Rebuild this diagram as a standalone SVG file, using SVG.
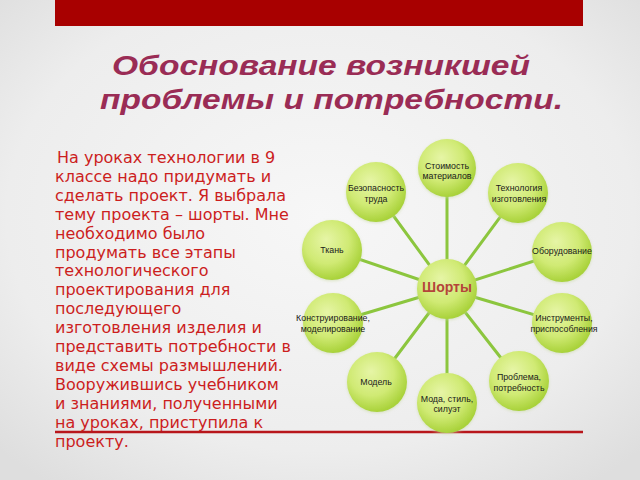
<svg xmlns="http://www.w3.org/2000/svg" width="640" height="480" viewBox="0 0 640 480">
<defs>
<radialGradient id="bg" cx="50%" cy="45%" r="70%">
<stop offset="0" stop-color="#f7f7f7"/>
<stop offset="0.7" stop-color="#ededed"/>
<stop offset="1" stop-color="#dedede"/>
</radialGradient>
<radialGradient id="ball" cx="42%" cy="38%" r="62%" fx="40%" fy="32%">
<stop offset="0" stop-color="#e6f5a6"/>
<stop offset="0.6" stop-color="#d0ea74"/>
<stop offset="1" stop-color="#a9d23a"/>
</radialGradient>
<filter id="glow" x="-20%" y="-20%" width="140%" height="140%">
<feGaussianBlur in="SourceAlpha" stdDeviation="1.5"/>
<feOffset dx="0" dy="1" result="b"/>
<feFlood flood-color="#c8d8a0" flood-opacity="0.6"/>
<feComposite in2="b" operator="in"/>
<feMerge><feMergeNode/><feMergeNode in="SourceGraphic"/></feMerge>
</filter>
</defs>
<style>
.title{font-family:"Liberation Sans",Arial,sans-serif;font-size:28px;font-weight:bold;font-style:italic;fill:#9a2c55}
.body{font-family:"DejaVu Sans",Verdana,sans-serif;font-size:16px;fill:#cc1e1e}
.node circle{fill:url(#ball);filter:url(#glow)}
.lbl{font-family:"Liberation Sans",Arial,sans-serif;font-size:8.8px;fill:#1a1a1a;text-anchor:middle}
.hub{font-family:"Liberation Sans",Arial,sans-serif;font-size:14px;font-weight:bold;fill:#b4453a;text-anchor:middle}
.conn line{stroke:#8cc63e;stroke-width:3;stroke-linecap:round}
</style>
<rect x="0" y="0" width="640" height="480" fill="url(#bg)"/>
<rect x="55" y="0" width="528" height="26" fill="#a80000"/>
<text class="title" x="112" y="75" textLength="418" lengthAdjust="spacingAndGlyphs">Обоснование возникшей</text>
<text class="title" x="100" y="109" textLength="463" lengthAdjust="spacingAndGlyphs">проблемы и потребности.</text>
<g id="body-text" class="body">
<text x="57" y="163">На уроках технологии в 9</text>
<text x="55" y="181.9">классе надо придумать и</text>
<text x="55" y="200.8">сделать проект. Я выбрала</text>
<text x="55" y="219.7">тему проекта – шорты. Мне</text>
<text x="55" y="238.6">необходимо было</text>
<text x="55" y="257.5">продумать все этапы</text>
<text x="55" y="276.4">технологического</text>
<text x="55" y="295.3">проектирования для</text>
<text x="55" y="314.2">последующего</text>
<text x="55" y="333.1">изготовления изделия и</text>
<text x="55" y="352">представить потребности в</text>
<text x="55" y="370.9">виде схемы размышлений.</text>
<text x="55" y="389.8">Вооружившись учебником</text>
<text x="55" y="408.7">и знаниями, полученными</text>
<text x="55" y="427.6">на уроках, приступила к</text>
<text x="55" y="446.5">проекту.</text>
</g>
<line x1="55" y1="432" x2="583" y2="432" stroke="#b8161b" stroke-width="2.5"/>
<g id="connectors" class="conn">
<line x1="447" y1="289" x2="447" y2="168"/>
<line x1="447" y1="289" x2="376" y2="192"/>
<line x1="447" y1="289" x2="518" y2="193"/>
<line x1="447" y1="289" x2="332" y2="250"/>
<line x1="447" y1="289" x2="562" y2="252"/>
<line x1="447" y1="289" x2="333" y2="323"/>
<line x1="447" y1="289" x2="562" y2="323"/>
<line x1="447" y1="289" x2="377" y2="382"/>
<line x1="447" y1="289" x2="519" y2="381"/>
<line x1="447" y1="289" x2="447" y2="403"/>
</g>
<g id="node-stoimost" class="node"><circle cx="447" cy="168" r="29"/><text class="lbl" x="447" y="169">Стоимость</text><text class="lbl" x="447" y="179">материалов</text></g>
<g id="node-bezopasnost" class="node"><circle cx="376" cy="192" r="30"/><text class="lbl" x="376" y="191">Безопасность</text><text class="lbl" x="376" y="202">труда</text></g>
<g id="node-tekhnologiya" class="node"><circle cx="518" cy="193" r="30"/><text class="lbl" x="519" y="191">Технология</text><text class="lbl" x="519" y="202">изготовления</text></g>
<g id="node-tkan" class="node"><circle cx="332" cy="250" r="30"/><text class="lbl" x="332" y="253">Ткань</text></g>
<g id="node-oborudovanie" class="node"><circle cx="562" cy="252" r="30"/><text class="lbl" x="562" y="254">Оборудование</text></g>
<g id="node-konstruirovanie" class="node"><circle cx="333" cy="323" r="30"/><text class="lbl" x="333" y="321">Конструирование,</text><text class="lbl" x="333" y="332">моделирование</text></g>
<g id="node-instrumenty" class="node"><circle cx="562" cy="323" r="30"/><text class="lbl" x="564" y="321">Инструменты,</text><text class="lbl" x="564" y="332">приспособления</text></g>
<g id="node-model" class="node"><circle cx="377" cy="382" r="30"/><text class="lbl" x="376" y="385">Модель</text></g>
<g id="node-problema" class="node"><circle cx="519" cy="381" r="30"/><text class="lbl" x="519" y="380">Проблема,</text><text class="lbl" x="519" y="391">потребность</text></g>
<g id="node-moda" class="node"><circle cx="447" cy="403" r="30"/><text class="lbl" x="447" y="402">Мода, стиль,</text><text class="lbl" x="447" y="412">силуэт</text></g>
<g id="node-shorty" class="node"><circle cx="447" cy="289" r="30"/><text class="hub" x="447" y="292">Шорты</text></g>
</svg>
